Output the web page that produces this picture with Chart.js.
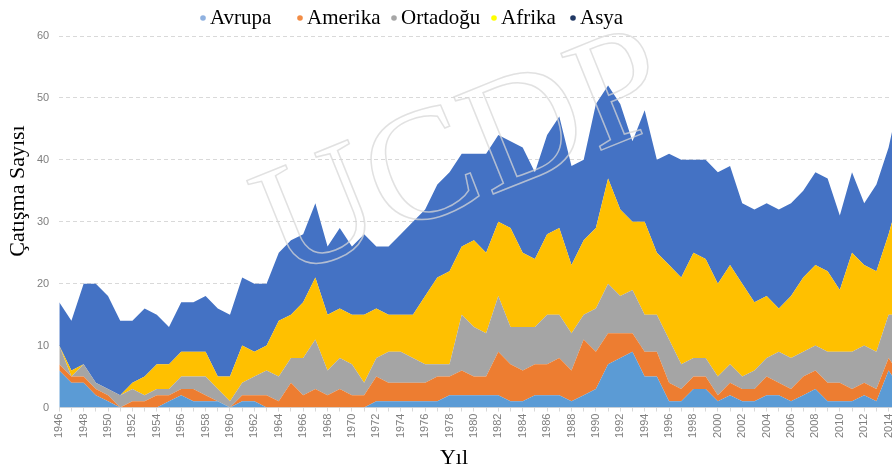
<!DOCTYPE html>
<html lang="tr">
<head>
<meta charset="utf-8">
<title>Çatışma Sayısı</title>
<script src="https://cdn.jsdelivr.net/npm/chart.js@4.4.1/dist/chart.umd.min.js"></script>
<style>
    html, body { margin: 0; padding: 0; overflow: hidden; background: #ffffff; }
    #wrap { position: absolute; left: 0; top: 0; }
</style>
</head>
<body>
<div id="wrap"><canvas id="grafik" width="916" height="470"></canvas></div>
<script>
// Yıllar (x ekseni)
const yillar = [
    '1946', '1947', '1948', '1949', '1950', '1951', '1952', '1953', '1954', '1955',
    '1956', '1957', '1958', '1959', '1960', '1961', '1962', '1963', '1964', '1965',
    '1966', '1967', '1968', '1969', '1970', '1971', '1972', '1973', '1974', '1975',
    '1976', '1977', '1978', '1979', '1980', '1981', '1982', '1983', '1984', '1985',
    '1986', '1987', '1988', '1989', '1990', '1991', '1992', '1993', '1994', '1995',
    '1996', '1997', '1998', '1999', '2000', '2001', '2002', '2003', '2004', '2005',
    '2006', '2007', '2008', '2009', '2010', '2011', '2012', '2013', '2014', '2015'
];

// Bölgelere göre çatışma sayıları
const avrupa = [
    6, 4, 4, 2, 1, 0, 0, 0, 0, 1,
    2, 1, 1, 1, 0, 1, 1, 0, 0, 0,
    0, 0, 0, 0, 0, 0, 1, 1, 1, 1,
    1, 1, 2, 2, 2, 2, 2, 1, 1, 2,
    2, 2, 1, 2, 3, 7, 8, 9, 5, 5,
    1, 1, 3, 3, 1, 2, 1, 1, 2, 2,
    1, 2, 3, 1, 1, 1, 2, 1, 6, 3
];
const amerika = [
    1, 1, 1, 1, 1, 0, 1, 1, 2, 1,
    1, 2, 1, 0, 0, 1, 1, 2, 1, 4,
    2, 3, 2, 3, 2, 2, 4, 3, 3, 3,
    3, 4, 3, 4, 3, 3, 7, 6, 5, 5,
    5, 6, 5, 9, 6, 5, 4, 3, 4, 4,
    3, 2, 2, 2, 1, 2, 2, 2, 3, 2,
    2, 3, 3, 3, 3, 2, 2, 2, 2, 2
];
const ortadogu = [
    3, 0, 2, 1, 1, 2, 2, 1, 1, 1,
    2, 2, 3, 2, 1, 2, 3, 4, 4, 4,
    6, 8, 4, 5, 5, 2, 3, 5, 5, 4,
    3, 2, 2, 9, 8, 7, 9, 6, 7, 6,
    8, 7, 6, 4, 7, 8, 6, 7, 6, 6,
    7, 4, 3, 3, 3, 3, 2, 3, 3, 5,
    5, 4, 4, 5, 5, 6, 6, 6, 7, 10
];
const afrika = [
    0, 1, 0, 0, 0, 0, 1, 3, 4, 4,
    4, 4, 4, 2, 4, 6, 4, 4, 9, 7,
    9, 10, 9, 8, 8, 11, 8, 6, 6, 7,
    11, 14, 15, 11, 14, 13, 12, 16, 12, 11,
    13, 14, 11, 12, 13, 17, 14, 11, 15, 10,
    12, 14, 17, 16, 15, 16, 15, 11, 10, 7,
    10, 12, 13, 13, 10, 16, 13, 13, 13, 20
];
const asya = [
    7, 8, 13, 16, 15, 12, 10, 11, 8, 6,
    8, 8, 9, 11, 10, 11, 11, 10, 11, 12,
    11, 12, 11, 13, 11, 13, 10, 11, 13, 15,
    14, 15, 16, 15, 14, 16, 14, 14, 17, 14,
    16, 18, 16, 13, 20, 15, 17, 13, 18, 15,
    18, 19, 15, 16, 18, 16, 13, 15, 15, 16,
    15, 14, 15, 15, 12, 13, 10, 14, 14, 16
];

const yEkseni = [0, 60, 10]; // min, max, adım

// Üstteki açıklama, eksen başlıkları ve filigran
const ekYazilar = {
    id: 'ekYazilar',
    afterDatasetsDraw(chart) {
        const ctx = chart.ctx;
        ctx.save();
        ctx.translate(465, 160);
        ctx.rotate(-22 * Math.PI / 180);
        ctx.font = '160px "Liberation Serif"';
        ctx.textAlign = 'center';
        ctx.textBaseline = 'middle';
        ctx.lineWidth = 1.5;
        ctx.strokeStyle = 'rgba(215, 215, 215, 0.75)';
        ctx.strokeText('UCDP', 0, 0);
        ctx.restore();
    },
    afterDraw(chart) {
        const ctx = chart.ctx;
        ctx.save();
        ctx.fillStyle = '#000000';

        // açıklama
        const noktaX = [203, 300, 394, 494, 573];
        const noktaRenk = ['#8fb1e0', '#f28c45', '#a6a6a6', '#ffff00', '#203864'];
        ctx.font = '21px "Liberation Serif"';
        ctx.textBaseline = 'middle';
        ctx.textAlign = 'left';
        chart.data.datasets.forEach((ds, i) => {
            ctx.fillStyle = noktaRenk[i];
            ctx.beginPath();
            ctx.arc(noktaX[i], 18, 2.8, 0, Math.PI * 2);
            ctx.fill();
            ctx.fillStyle = '#000000';
            ctx.fillText(ds.label, noktaX[i] + 7, 18);
        });

        // eksen başlıkları
        ctx.font = '22px "Liberation Serif"';
        ctx.textAlign = 'center';
        ctx.fillText('Yıl', 454, 458);
        ctx.translate(18, 191);
        ctx.rotate(-Math.PI / 2);
        ctx.fillText('Çatışma Sayısı', 0, 0);
        ctx.restore();
    }
};

function bolge(label, data, renk, fill) {
    return {
        label: label,
        data: data,
        backgroundColor: renk,
        borderColor: 'rgba(0,0,0,0)',
        borderWidth: 0,
        pointRadius: 0,
        pointHoverRadius: 0,
        tension: 0,
        fill: fill
    };
}

const ctx = document.getElementById('grafik').getContext('2d');
const grafik = new Chart(ctx, {
    type: 'line',
    data: {
        labels: yillar,
        datasets: [
            bolge('Avrupa', avrupa, '#5b9bd5', 'origin'),
            bolge('Amerika', amerika, '#ed7d31', '-1'),
            bolge('Ortadoğu', ortadogu, '#a5a5a5', '-1'),
            bolge('Afrika', afrika, '#ffc000', '-1'),
            bolge('Asya', asya, '#4472c4', '-1')
        ]
    },
    options: {
        responsive: false,
        animation: false,
        layout: {
            padding: { left: 27, top: 36, right: 11, bottom: 30 }
        },
        scales: {
            x: {
                offset: false,
                grid: {
                    display: true,
                    drawOnChartArea: false,
                    drawTicks: true,
                    tickLength: 4,
                    color: '#d9d9d9'
                },
                border: { display: true, color: '#d9d9d9' },
                ticks: {
                    autoSkip: false,
                    maxRotation: 90,
                    minRotation: 90,
                    padding: 2,
                    color: '#7f7f7f',
                    font: { family: 'Liberation Sans', size: 11 },
                    callback: function (value, index) {
                        return index % 2 === 0 ? this.getLabelForValue(value) : '';
                    }
                }
            },
            y: {
                stacked: true,
                min: yEkseni[0],
                max: yEkseni[1],
                grid: {
                    color: '#d9d9d9',
                    drawTicks: false
                },
                border: { display: false, dash: [4, 3] },
                ticks: {
                    stepSize: yEkseni[2],
                    padding: 10,
                    color: '#7f7f7f',
                    font: { family: 'Liberation Sans', size: 11 }
                }
            }
        },
        plugins: {
            legend: { display: false },
            title: { display: false },
            tooltip: { enabled: false }
        }
    },
    plugins: [ekYazilar]
});
</script>
</body>
</html>
